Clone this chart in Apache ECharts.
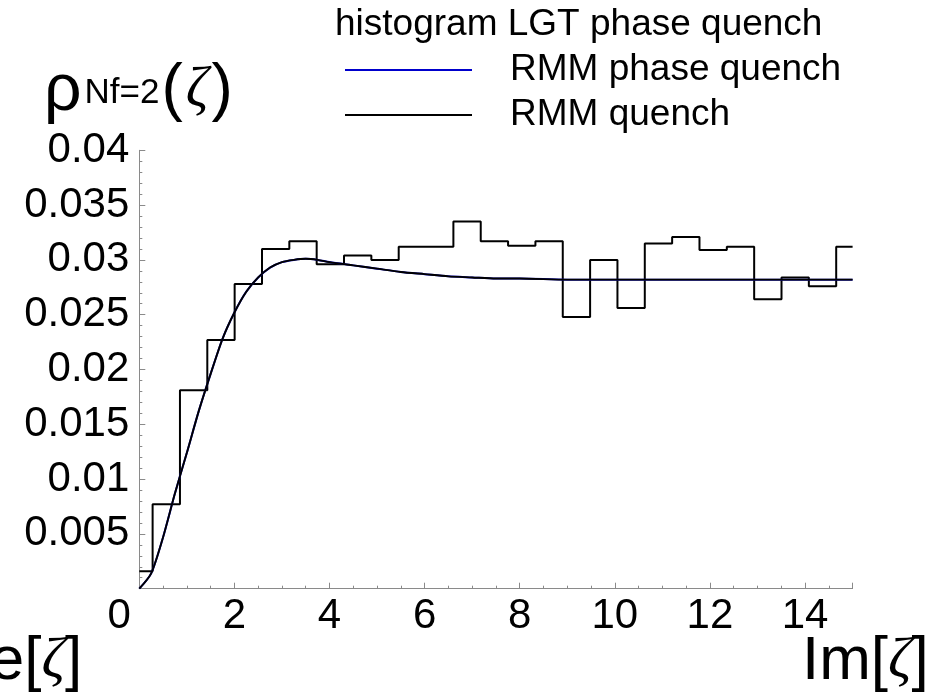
<!DOCTYPE html>
<html>
<head>
<meta charset="utf-8">
<script src="https://cdn.jsdelivr.net/npm/echarts@6/dist/echarts.min.js"></script>
<style>
  html, body { margin: 0; padding: 0; background: #ffffff; }
  #chart { width: 940px; height: 697px; }
</style>
</head>
<body>
<div id="chart"></div>
<script>
// Histogram of the lattice data: bin edges and bin heights
const binEdges = [-0.295, 0.28, 0.855, 1.43, 2.005, 2.58, 3.155, 3.73, 4.305, 4.88,
  5.455, 6.03, 6.605, 7.18, 7.755, 8.33, 8.905, 9.48, 10.055, 10.63, 11.205,
  11.78, 12.355, 12.93, 13.505, 14.08, 14.655, 15.23];
const histValues = [0.0016, 0.0077, 0.0181, 0.0227, 0.0278, 0.0310, 0.0317, 0.0296,
  0.0304, 0.0300, 0.0312, 0.0312, 0.0335, 0.0317, 0.0313, 0.0317, 0.0248, 0.0300,
  0.0256, 0.0315, 0.0321, 0.0309, 0.0312, 0.0264, 0.0284, 0.0276, 0.0312];

// Random matrix model densities sampled along Im[zeta]
const curveX = [0, 0.25, 0.5, 0.75, 1.0, 1.25, 1.5, 1.75, 2.0, 2.25, 2.5, 2.75, 3.0,
  3.25, 3.5, 3.75, 4.0, 4.5, 5.0, 5.5, 6.0, 6.5, 7.0, 7.5, 8.0, 9.0, 10, 11, 12, 13, 14, 15];
const rmmPhaseQuench = [0, 0.0014, 0.0047, 0.0087, 0.0124, 0.0162, 0.0196, 0.0228, 0.0252,
  0.0271, 0.0284, 0.0293, 0.0298, 0.0300, 0.0301, 0.0300, 0.0298, 0.0295, 0.0292, 0.0289,
  0.0287, 0.0285, 0.0284, 0.0283, 0.0283, 0.0282, 0.0282, 0.0282, 0.0282, 0.0282, 0.0282, 0.0282];
const rmmQuench = [0, 0.0014, 0.0047, 0.0087, 0.0124, 0.0162, 0.0196, 0.0228, 0.0252,
  0.0271, 0.0284, 0.0293, 0.0298, 0.0300, 0.0301, 0.0300, 0.0298, 0.0295, 0.0292, 0.0289,
  0.0287, 0.0285, 0.0284, 0.0283, 0.0283, 0.0282, 0.0282, 0.0282, 0.0282, 0.0282, 0.0282, 0.0282];

const xTickLabels = [0, 2, 4, 6, 8, 10, 12, 14];
const yTickLabels = ['0.005', '0.01', '0.015', '0.02', '0.025', '0.03', '0.035', '0.04'];

const X_MAX = 15;

// Step outline of the histogram, clipped to the visible x range
const histPoints = [];
histValues.forEach((v, i) => {
  histPoints.push([Math.max(binEdges[i], 0), v]);
  histPoints.push([Math.min(binEdges[i + 1], X_MAX), v]);
});

const zip = (xs, ys) => xs.map((x, i) => [x, ys[i]]);

const SANS = 'Liberation Sans, Arial, sans-serif';
const SERIF = 'Liberation Serif, DejaVu Serif, serif';
const axisGray = '#8a8a8a';

const chart = echarts.init(document.getElementById('chart'), null, { renderer: 'canvas' });

chart.setOption({
  animation: false,
  backgroundColor: '#ffffff',
  grid: { left: 139.3, right: 87.4, top: 150.3, bottom: 108.3, containLabel: false, outerBoundsMode: 'none' },
  xAxis: {
    type: 'value', min: 0, max: X_MAX, interval: 2,
    axisLine: { show: true, lineStyle: { color: axisGray, width: 1 } },
    axisTick: { show: true, inside: true, length: 6, lineStyle: { color: axisGray } },
    minorTick: { show: true, splitNumber: 4, length: 3, lineStyle: { color: axisGray } },
    splitLine: { show: false },
    axisLabel: {
      color: '#000', fontFamily: SANS, fontSize: 42, margin: 7,
      formatter: v => {
        if (!xTickLabels.includes(v)) return '';
        return v === 0 ? '{o|0}' : String(v);
      },
      rich: { o: { fontFamily: SANS, fontSize: 42, color: '#000', padding: [0, 40, 0, 0] } }
    }
  },
  yAxis: {
    type: 'value', min: 0, max: 0.04, interval: 0.005,
    axisLine: { show: true, lineStyle: { color: axisGray, width: 1 } },
    axisTick: { show: true, inside: true, length: 6, lineStyle: { color: axisGray } },
    minorTick: { show: true, splitNumber: 5, length: 3, lineStyle: { color: axisGray } },
    splitLine: { show: false },
    axisLabel: {
      color: '#000', fontFamily: SANS, fontSize: 42, margin: 10, showMinLabel: false,
      formatter: v => {
        const s = String(parseFloat(v.toFixed(3)));
        return yTickLabels.includes(s) ? s : '';
      }
    }
  },
  series: [
    {
      name: 'histogram LGT phase quench', type: 'line', data: histPoints,
      showSymbol: false, clip: true,
      lineStyle: { color: '#000', width: 2 }
    },
    {
      name: 'RMM phase quench', type: 'line', data: zip(curveX, rmmPhaseQuench),
      showSymbol: false, smooth: 0.25, clip: true,
      lineStyle: { color: '#1010c0', width: 2 }
    },
    {
      name: 'RMM quench', type: 'line', data: zip(curveX, rmmQuench),
      showSymbol: false, smooth: 0.25, clip: true,
      lineStyle: { color: '#000', width: 1.9 }
    }
  ],
  graphic: [
    // legend block
    { type: 'text', x: 335, y: 25, style: { text: 'histogram LGT phase quench', font: '37px ' + SANS, fill: '#000', verticalAlign: 'middle' } },
    { type: 'line', shape: { x1: 345, y1: 70, x2: 472, y2: 70 }, style: { stroke: '#0000cc', lineWidth: 2 } },
    { type: 'text', x: 510, y: 70, style: { text: 'RMM phase quench', font: '37px ' + SANS, fill: '#000', verticalAlign: 'middle' } },
    { type: 'line', shape: { x1: 345, y1: 115, x2: 472, y2: 115 }, style: { stroke: '#000', lineWidth: 2 } },
    { type: 'text', x: 510, y: 115, style: { text: 'RMM quench', font: '37px ' + SANS, fill: '#000', verticalAlign: 'middle' } },
    // y axis title
    {
      type: 'text', x: 44, y: 125,
      style: {
        text: '{r|ρ}{n|Nf=2}{p|(}{z|ζ}{p|)}', verticalAlign: 'bottom',
        rich: {
          r: { font: '66px ' + SANS, fill: '#000', verticalAlign: 'bottom', lineHeight: 66 },
          n: { font: '35px ' + SANS, fill: '#000', verticalAlign: 'bottom', lineHeight: 66, padding: [0, 2, 14, 3] },
          p: { font: '64px ' + SANS, fill: '#000', verticalAlign: 'bottom', lineHeight: 66, padding: [0, 0, 2, 0] },
          z: { font: 'italic 56px ' + SERIF, fill: '#000', verticalAlign: 'bottom', lineHeight: 66, padding: [0, 3, 6, 3] }
        }
      }
    },
    // x axis titles
    {
      type: 'text', x: -55, y: 662,
      style: {
        text: '{a|Re[}{z|ζ}{a|]}', verticalAlign: 'middle',
        rich: { a: { font: '62px ' + SANS, fill: '#000' }, z: { font: 'italic 58px ' + SERIF, fill: '#000' } }
      }
    },
    {
      type: 'text', x: 802, y: 662,
      style: {
        text: '{a|Im[}{z|ζ}{a|]}', verticalAlign: 'middle',
        rich: { a: { font: '62px ' + SANS, fill: '#000' }, z: { font: 'italic 58px ' + SERIF, fill: '#000' } }
      }
    }
  ]
});
</script>
</body>
</html>
